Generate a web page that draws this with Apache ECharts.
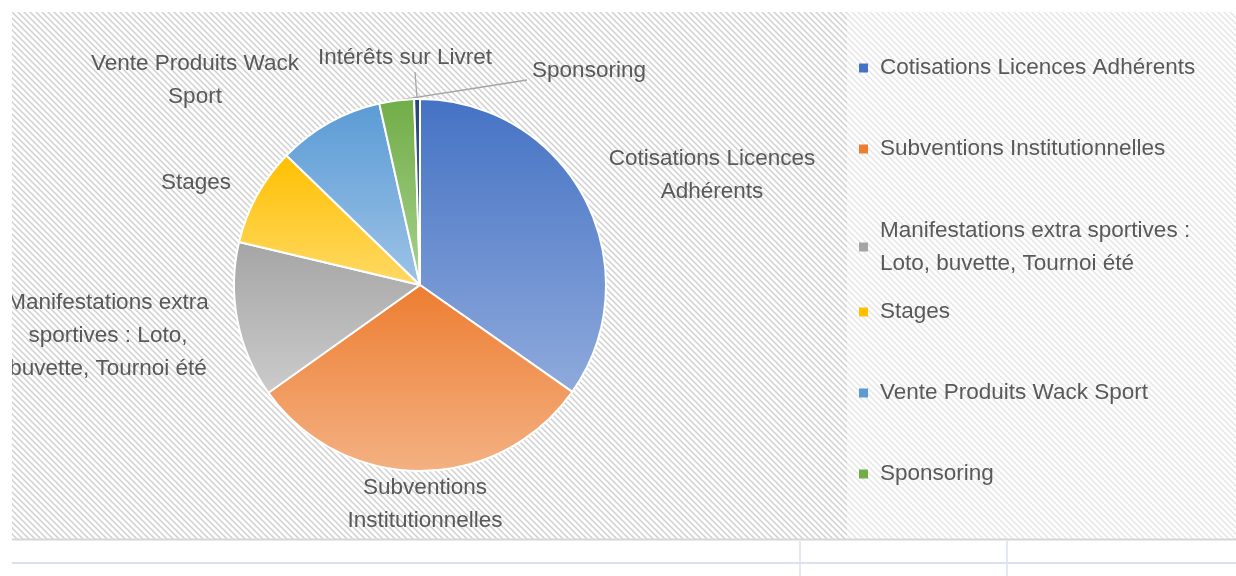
<!DOCTYPE html>
<html>
<head>
<meta charset="utf-8">
<script src="https://cdn.jsdelivr.net/npm/echarts@6/dist/echarts.min.js"></script>
<style>
  html, body { margin: 0; background: #fff; }
  #main { width: 1236px; height: 576px; }
</style>
</head>
<body>
<div id="main"></div>
<script>
var categories = [
  "Cotisations Licences Adhérents",
  "Subventions Institutionnelles",
  "Manifestations extra sportives : Loto, buvette, Tournoi été",
  "Stages",
  "Vente Produits Wack Sport",
  "Sponsoring",
  "Intérêts sur Livret"
];
var values = [34.6, 30.3, 13.5, 8.5, 9.2, 3.0, 0.5];

// texts as wrapped in the picture
var pieLabels = [
  "Cotisations Licences\nAdhérents",
  "Subventions\nInstitutionnelles",
  "Manifestations extra\nsportives : Loto,\nbuvette, Tournoi été",
  "Stages",
  "Vente Produits Wack\nSport",
  "Sponsoring",
  "Intérêts sur Livret"
];
var legendLabels = [
  "Cotisations Licences Adhérents",
  "Subventions Institutionnelles",
  "Manifestations extra sportives :\nLoto, buvette, Tournoi été",
  "Stages",
  "Vente Produits Wack Sport",
  "Sponsoring"
];

// gradient colors (top, bottom)
var colors = [
  ["#4472c4", "#8faadc"],
  ["#ed7d31", "#f4b183"],
  ["#a5a5a5", "#cbcbcb"],
  ["#ffc000", "#ffd966"],
  ["#5b9bd5", "#9dc3e6"],
  ["#70ad47", "#a9d18e"],
  ["#264478", "#4a6aa5"]
];

// label / legend placement
var labelPos = [[712, 175], [425, 504], [108, 336], [196, 183], [195, 80], [589, 71], [405, 58]];
var lineEnd = { 5: [527, 80], 6: [415, 72] };
var legendY = [66, 147, 229, 310, 391, 472];

var font = "Liberation Sans";
var fontSize = 22.5;
var textColor = "#595959";

var hatch = document.createElement("canvas");
hatch.width = 6;
hatch.height = 6;
var ctx = hatch.getContext("2d");
ctx.fillStyle = "#ffffff";
ctx.fillRect(0, 0, 6, 6);
ctx.strokeStyle = "#d0d0d0";
ctx.lineWidth = 1.5;
ctx.beginPath();
ctx.moveTo(-1, -1); ctx.lineTo(7, 7);
ctx.moveTo(-1, 5); ctx.lineTo(1, 7);
ctx.moveTo(5, -1); ctx.lineTo(7, 1);
ctx.stroke();

var chart = echarts.init(document.getElementById("main"));

var pieData = categories.map(function (name, i) {
  return {
    name: name,
    value: values[i],
    itemStyle: {
      color: {
        type: "linear", x: 0, y: 0, x2: 0, y2: 1,
        colorStops: [{ offset: 0, color: colors[i][0] }, { offset: 1, color: colors[i][1] }]
      }
    },
    label: { formatter: pieLabels[i] },
    labelLine: { show: i >= 5 }
  };
});

var legends = categories.slice(0, 6).map(function (name, i) {
  var wrapped = legendLabels[i].indexOf("\n") >= 0;
  return {
    data: [{ name: name, itemStyle: { color: colors[i][0], borderWidth: 0 } }],
    orient: "vertical",
    left: 859,
    top: legendY[i] - (wrapped ? 31.5 : 14.5),
    padding: 0,
    icon: "rect",
    itemWidth: 9,
    itemHeight: 9,
    selectedMode: false,
    formatter: function () { return legendLabels[i]; },
    textStyle: {
      fontFamily: font,
      fontSize: fontSize,
      color: textColor,
      lineHeight: 33,
      padding: wrapped ? [33, 0, 0, 7] : [0, 0, 0, 7]
    }
  };
});

var option = {
  animation: false,
  graphic: [
    { type: "rect", z: -10, shape: { x: 12, y: 12, width: 1224, height: 527 }, style: { fill: { image: hatch, repeat: "repeat" } } },
    { type: "rect", z: -9, shape: { x: 847, y: 12, width: 389, height: 527 }, style: { fill: "rgba(255,255,255,0.45)" } },
    { type: "line", z: -8, shape: { x1: 12, y1: 539.5, x2: 1236, y2: 539.5 }, style: { stroke: "#d6d6d6", lineWidth: 2 } },
    { type: "line", z: -8, shape: { x1: 12, y1: 563, x2: 1236, y2: 563 }, style: { stroke: "#dbe1f1", lineWidth: 2 } },
    { type: "line", z: -8, shape: { x1: 800, y1: 541, x2: 800, y2: 576 }, style: { stroke: "#dbe1f1", lineWidth: 1.5 } },
    { type: "line", z: -8, shape: { x1: 1007, y1: 541, x2: 1007, y2: 576 }, style: { stroke: "#dbe1f1", lineWidth: 1.5 } },
    { type: "rect", z: 100, shape: { x: 0, y: 0, width: 12, height: 540 }, style: { fill: "#fff" } },
    { type: "rect", z: 100, shape: { x: 0, y: 0, width: 1236, height: 12 }, style: { fill: "#fff" } }
  ],
  legend: legends,
  series: [
    {
      type: "pie",
      center: [420, 285],
      radius: 186,
      startAngle: 90,
      clockwise: true,
      avoidLabelOverlap: false,
      data: pieData,
      itemStyle: { borderColor: "#ffffff", borderWidth: 2 },
      label: {
        show: true,
        position: "outside",
        fontFamily: font,
        fontSize: fontSize,
        lineHeight: 33,
        color: textColor,
        align: "center"
      },
      labelLine: {
        length: 10,
        length2: 10,
        lineStyle: { color: "#a6a6a6", width: 1.3 }
      },
      labelLayout: function (params) {
        var i = params.dataIndex;
        var res = { x: labelPos[i][0], y: labelPos[i][1], align: "center", verticalAlign: "middle" };
        if (lineEnd[i] && params.labelLinePoints) {
          var s = params.labelLinePoints[0];
          var e = lineEnd[i];
          res.labelLinePoints = [s, [(s[0] + e[0]) / 2, (s[1] + e[1]) / 2], e];
        }
        return res;
      },
      emphasis: { disabled: true }
    }
  ]
};

chart.setOption(option);
</script>
</body>
</html>
